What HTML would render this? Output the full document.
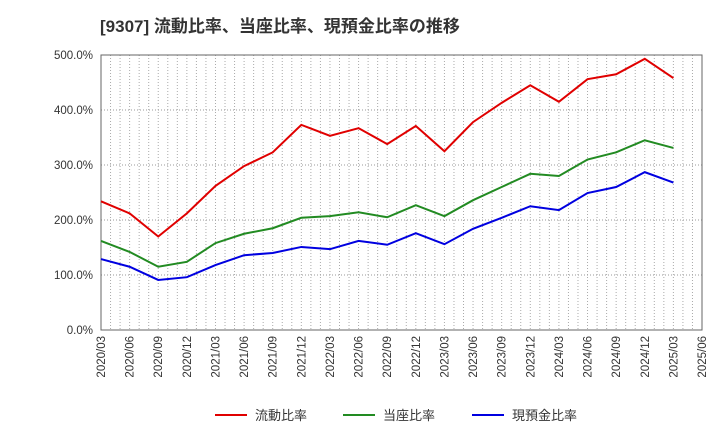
<!DOCTYPE html>
<html><head><meta charset="utf-8"><style>
body{margin:0;background:#fff;}
svg{font-family:"Liberation Sans","Noto Sans CJK JP",sans-serif;}
</style></head><body>
<svg id="c" width="720" height="440" xmlns="http://www.w3.org/2000/svg">
<text x="100" y="32" font-size="17" font-weight="bold" fill="#333">[9307]  流動比率、当座比率、現預金比率の推移</text>
<g id="grid"></g><g id="axes"></g><g id="series"></g><g id="legend"></g>
</svg>
<script>
const categories=["2020/03","2020/06","2020/09","2020/12","2021/03","2021/06","2021/09","2021/12","2022/03","2022/06","2022/09","2022/12","2023/03","2023/06","2023/09","2023/12","2024/03","2024/06","2024/09","2024/12","2025/03","2025/06"];
const currentRatio=[234,212,170,212,262,298,323,373,353,367,338,371,325,378,413,445,415,456,465,493,458];
const quickRatio=[162,142,115,124,158,175,185,204,207,214,205,227,207,236,260,284,280,310,323,345,331];
const cashRatio=[129,115,91,96,118,136,140,151,147,162,155,176,156,184,204,225,218,249,260,287,268];
const yTicks=[0,100,200,300,400,500];
const L=101,R=702,T=55,B=330;
const x=i=>L+i*(R-L)/(categories.length-1);
const y=v=>B-(v/500)*(B-T);
const NS="http://www.w3.org/2000/svg";
function mk(p,tag,a){const e=document.createElementNS(NS,tag);for(const k in a)e.setAttribute(k,a[k]);document.getElementById(p).appendChild(e);return e;}
yTicks.forEach(t=>{
 const l=mk('grid','line',{x1:L,x2:R,y1:y(t),y2:y(t),stroke:'#999','stroke-dasharray':'1,2'});
 
 
 const tx=mk('axes','text',{x:L-8,y:y(t)+4,'font-size':11.5,'text-anchor':'end',fill:'#333'});
 tx.textContent=t.toFixed(1)+'%';
 
 
});
for(let m=0;m<=(categories.length-1)*3;m++){
 const gx=x(m/3);
 const l=mk('grid','line',{x1:gx,x2:gx,y1:T,y2:B,stroke:'#aaa','stroke-dasharray':'1,2'});
 
 
}
categories.forEach((c,i)=>{
 const tx=mk('axes','text',{x:x(i)+4,y:B+6,'font-size':11.5,'text-anchor':'end',fill:'#333',transform:`rotate(-90 ${x(i)+4} ${B+6})`});
 tx.textContent=c;
 
 
});
const fr=mk('axes','rect',{x:L,y:T,width:R-L,height:B-T,fill:'none',stroke:'#666'});


const series=[[currentRatio,'#e00000','流動比率','current-ratio-line'],[quickRatio,'#228b22','当座比率','quick-ratio-line'],[cashRatio,'#0000e0','現預金比率','cash-ratio-line']];
series.forEach(([d,col,name,dn],k)=>{
 const p=mk('series','polyline',{points:d.map((v,i)=>x(i)+','+y(v)).join(' '),fill:'none',stroke:col,'stroke-width':2});
 
 
 const lx=[215,343,472][k];
 const ll=mk('legend','line',{x1:lx,x2:lx+32,y1:415,y2:415,stroke:col,'stroke-width':2});
 
 
 const lt=mk('legend','text',{x:lx+40,y:420,'font-size':13,fill:'#333'});
 lt.textContent=name;
 
 
});
</script>
</body></html>
